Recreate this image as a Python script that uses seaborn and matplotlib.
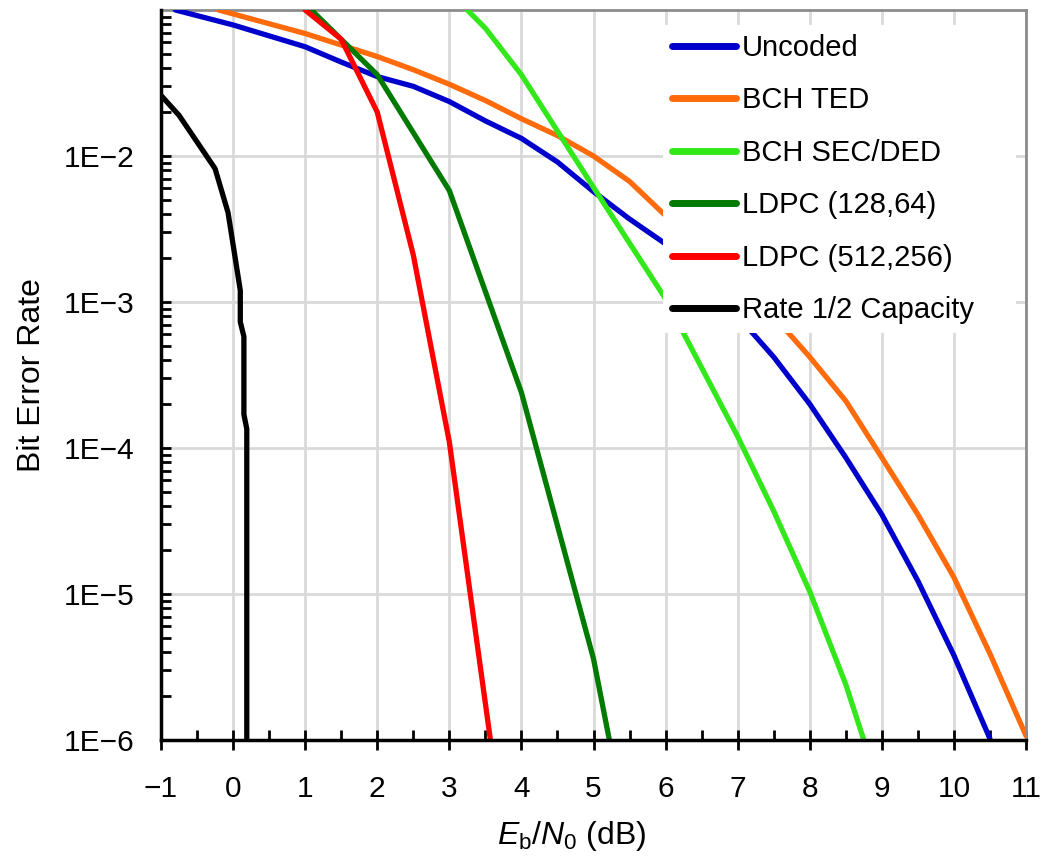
import numpy as np
import pandas as pd
import matplotlib
matplotlib.use("Agg")
import matplotlib.pyplot as plt
from matplotlib.patches import Rectangle
from matplotlib.ticker import FixedLocator, MultipleLocator, LogLocator, NullFormatter
import seaborn as sns

# ---- data ----
uncoded_x = [-0.8, 0, 1, 1.5, 2, 2.5, 3, 3.5, 4, 4.5, 5, 5.5, 6, 7, 7.5, 8, 8.5, 9, 9.5, 10, 10.5]
uncoded_y = [0.1, 0.079, 0.056, 0.044, 0.035, 0.030, 0.0236, 0.0174, 0.0132, 0.0091, 0.0057, 0.0037,
             0.0025, 8.0e-4, 4.2e-4, 2.0e-4, 8.6e-5, 3.5e-5, 1.23e-5, 3.8e-6, 1.02e-6]

ted_x = [-0.2, 1, 2, 2.5, 3, 3.5, 4, 4.5, 5, 5.5, 6, 7, 7.5, 8, 8.5, 9, 9.5, 10, 10.5, 11]
ted_y = [0.1, 0.069, 0.048, 0.039, 0.031, 0.024, 0.018, 0.0138, 0.0100, 0.0067, 0.0039, 1.6e-3,
         8.0e-4, 4.2e-4, 2.1e-4, 8.6e-5, 3.5e-5, 1.3e-5, 3.9e-6, 1.07e-6]

secded_x = [3.25, 3.5, 4, 5, 6, 7, 7.5, 8, 8.5, 8.75]
secded_y = [0.1, 0.075, 0.036, 0.0061, 1.05e-3, 1.2e-4, 3.7e-5, 1.04e-5, 2.4e-6, 1e-6]

ldpc128_x = [1, 1.5, 2, 3, 4, 5, 5.22]
ldpc128_y = [0.11, 0.063, 0.036, 0.0058, 2.4e-4, 3.6e-6, 1e-6]

ldpc512_x = [1, 1.5, 2, 2.5, 3, 3.57]
ldpc512_y = [0.1, 0.063, 0.020, 2.1e-3, 1.1e-4, 1e-6]

capacity_x = [-1.0, -0.75, -0.25, -0.07, 0.10, 0.10, 0.15, 0.15, 0.19, 0.19]
capacity_y = [0.026, 0.019, 0.0082, 0.0041, 1.2e-3, 7.3e-4, 5.8e-4, 1.7e-4, 1.35e-4, 1e-6]

series_names = ["Uncoded", "BCH TED", "BCH SEC/DED", "LDPC (128,64)", "LDPC (512,256)", "Rate 1/2 Capacity"]
series_colors = ["#0000CC", "#FF6A0A", "#33E81A", "#007A00", "#FF0000", "#000000"]

y_tick_values = [1e-6, 1e-5, 1e-4, 1e-3, 1e-2]
y_tick_labels = ["1E\u22126", "1E\u22125", "1E\u22124", "1E\u22123", "1E\u22122"]
x_tick_values = list(range(-1, 12))

frames = []
for name, xs, ys in zip(series_names,
                        [uncoded_x, ted_x, secded_x, ldpc128_x, ldpc512_x, capacity_x],
                        [uncoded_y, ted_y, secded_y, ldpc128_y, ldpc512_y, capacity_y]):
    frames.append(pd.DataFrame({"ebn0": xs, "ber": ys, "series": name}))
df = pd.concat(frames, ignore_index=True)

sns.set_style("white")
plt.rcParams["font.family"] = ["Liberation Sans", "DejaVu Sans"]
plt.rcParams["mathtext.fontset"] = "custom"
plt.rcParams["mathtext.rm"] = "Liberation Sans"
plt.rcParams["mathtext.it"] = "Liberation Sans:italic"
for k in ["text.color", "axes.labelcolor", "xtick.color", "ytick.color"]:
    plt.rcParams[k] = "black"

FS_TICK = 21.5
FS_LABEL = 23
FS_LEG = 21

fig = plt.figure(figsize=(10.42, 8.64), dpi=100)
ax = fig.add_axes([161 / 1042, 1 - 740 / 864, 865 / 1042, 730 / 864])

sns.lineplot(data=df, x="ebn0", y="ber", hue="series", hue_order=series_names,
             palette=dict(zip(series_names, series_colors)), estimator=None, sort=False,
             linewidth=3.8, ax=ax, zorder=3)

ax.set_yscale("log")
ax.set_xlim(-1, 11)
ax.set_ylim(1e-6, 1e-1)

ax.xaxis.set_major_locator(FixedLocator(x_tick_values))
ax.xaxis.set_minor_locator(MultipleLocator(0.5))
ax.set_xticklabels([f"{v}".replace("-", "\u2212") for v in x_tick_values])
ax.set_yticks(y_tick_values)
ax.set_yticklabels(y_tick_labels)
ax.yaxis.set_minor_locator(LogLocator(base=10, subs=np.arange(2, 10)))
ax.yaxis.set_minor_formatter(NullFormatter())

ax.grid(True, which="major", color="#d9d9d9", linewidth=2, zorder=0)
ax.set_axisbelow(True)

ax.tick_params(axis="x", which="major", direction="inout", length=14, width=2, color="black",
               labelsize=FS_TICK, pad=18, bottom=True)
ax.tick_params(axis="x", which="minor", direction="in", length=7, width=2, color="black", bottom=True)
ax.tick_params(axis="y", which="major", direction="in", length=7, width=2, color="black",
               labelsize=FS_TICK, pad=19, left=True)
ax.tick_params(axis="y", which="minor", direction="in", length=7, width=2, color="black", left=True)

for s in ["left", "bottom"]:
    ax.spines[s].set_color("black")
    ax.spines[s].set_linewidth(2.5)
    ax.spines[s].set_zorder(5)
for s in ["top", "right"]:
    ax.spines[s].set_color("#8c8c8c")
    ax.spines[s].set_linewidth(2)

ax.set_xlabel(r"$E_\mathrm{b}/N_\mathrm{0}$ (dB)", fontsize=FS_LABEL)
ax.xaxis.set_label_coords(0.475, -0.108)
ax.set_ylabel("Bit Error Rate", fontsize=FS_LABEL, labelpad=12)

# white legend background box
ax.add_patch(Rectangle((0.5803, 0.5575), 0.9884 - 0.5803, 0.9795 - 0.5575, transform=ax.transAxes,
                       facecolor="white", edgecolor="none", zorder=8))

handles, labels = ax.get_legend_handles_labels()
leg = ax.legend(handles, labels, loc="upper left", bbox_to_anchor=(0.5803, 0.9795),
                borderaxespad=0, fontsize=FS_LEG, frameon=False, handlelength=2.2,
                handletextpad=0.2, labelspacing=0.84, borderpad=0.3)
leg.set_zorder(10)
for h in leg.legend_handles:
    h.set_linewidth(5)
    h.set_solid_capstyle("round")

fig.savefig("out.png", dpi=100, facecolor="white")
